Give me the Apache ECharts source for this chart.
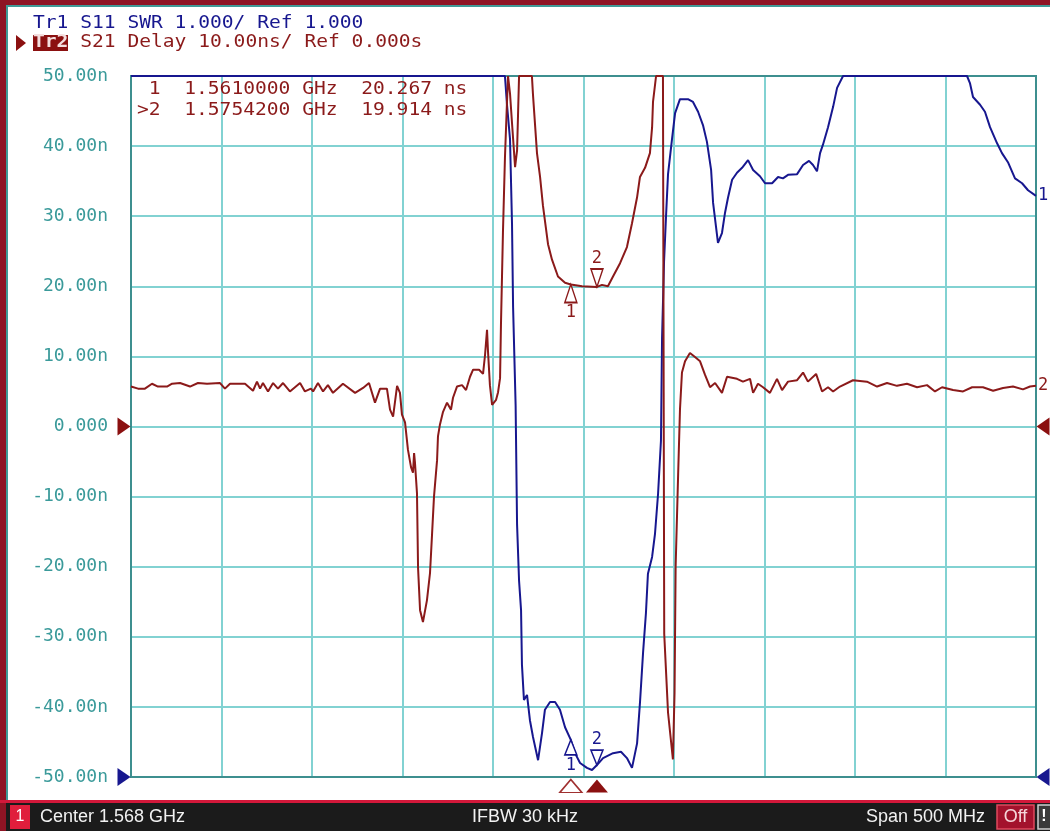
<!DOCTYPE html>
<html><head><meta charset="utf-8">
<script src="https://cdn.jsdelivr.net/npm/echarts@6/dist/echarts.min.js"></script>
<style>html,body{margin:0;padding:0;background:#fff;}#c{width:1050px;height:831px;}</style>
</head><body><div id="c"></div>
<script>
// ---- sweep ----
const CENTER_GHZ = 1.568;
const SPAN_MHZ = 500;
const START_MHZ = CENTER_GHZ * 1000 - SPAN_MHZ / 2; // 1318
const DIV_MHZ = 50;

// ---- Tr2: S21 group delay (ns) ----
const redFreqMHz = [1318.0,1321.9,1325.7,1329.6,1332.9,1337.9,1340.7,1345.1,1350.6,1355.0,1360.0,1367.2,1369.9,1372.7,1381.0,1385.4,1387.6,1389.3,1390.9,1393.7,1396.5,1399.2,1402.0,1405.8,1411.4,1414.1,1417.4,1418.6,1421.3,1424.1,1426.8,1429.6,1435.1,1441.8,1446.2,1449.5,1452.8,1455.6,1459.4,1461.1,1462.8,1465.0,1466.6,1467.7,1469.4,1471.0,1472.7,1473.8,1474.4,1474.9,1476.0,1476.6,1477.7,1479.3,1481.5,1483.2,1484.3,1485.4,1487.1,1487.6,1488.7,1490.4,1492.6,1494.8,1495.9,1498.1,1500.9,1503.1,1505.3,1507.0,1510.3,1512.5,1513.6,1514.7,1515.2,1516.3,1517.5,1519.7,1520.8,1521.9,1522.4,1523.5,1524.6,1525.7,1526.3,1527.4,1528.5,1530.2,1531.3,1531.8,1532.4,1539.5,1540.1,1542.3,1544.0,1545.6,1548.4,1550.6,1553.9,1557.8,1561.0,1567.2,1575.42,1578.2,1581.5,1584.3,1588.2,1592.0,1594.8,1597.6,1599.2,1602.0,1604.7,1605.9,1606.4,1608.1,1611.9,1612.6,1614.7,1617.4,1618.3,1618.9,1620.3,1621.3,1622.4,1624.1,1626.8,1629.6,1632.4,1635.1,1637.9,1640.7,1644.5,1647.3,1652.8,1656.1,1660.0,1661.7,1664.4,1667.2,1671.0,1674.9,1677.7,1681.0,1686.0,1689.3,1692.0,1696.5,1699.8,1703.1,1705.9,1709.7,1716.9,1724.6,1730.2,1735.7,1741.2,1746.7,1752.3,1757.8,1762.2,1766.1,1772.2,1777.7,1782.7,1788.7,1794.3,1799.8,1805.3,1810.8,1814.7,1818.0];
const redDelayNs = [5.7,5.4,5.4,6.1,5.7,5.7,6.1,6.2,5.7,6.2,6.1,6.2,5.4,6.1,6.1,5.1,6.4,5.4,6.2,5.0,6.2,5.4,6.2,5.0,6.2,5.0,5.4,5.0,6.2,5.0,5.9,4.8,6.1,4.8,5.5,6.2,3.4,5.4,5.4,2.4,1.4,5.8,4.8,1.7,0.6,-3.3,-5.8,-6.6,-3.8,-5.2,-9.5,-20.2,-26.2,-27.9,-24.8,-20.9,-15.5,-10.0,-4.8,-1.4,0.3,2.1,3.4,2.4,4.1,5.7,5.9,5.2,7.1,8.1,8.1,7.5,10.2,13.8,10.9,5.9,3.1,3.8,4.9,6.9,14.5,27.7,38.3,46.1,50,47.5,43.3,37.0,39.4,44.2,50,50,47.3,39.0,35.6,31.5,26.0,23.8,21.4,20.5,20.267,20.0,19.914,20.2,20.0,21.4,23.3,25.6,29.0,32.7,35.6,36.9,39.0,42.7,46.3,50,50,-29.6,-40.8,-47.5,-38.0,-20.0,-6.7,2.4,7.7,9.3,10.5,9.9,9.3,7.4,5.6,6.2,4.8,7.1,6.8,6.4,6.8,4.8,6.1,5.6,4.8,6.8,5.2,6.4,6.6,7.7,6.4,7.5,5.0,5.6,5.0,5.7,6.6,6.4,5.7,6.2,5.8,6.1,5.6,5.9,5.0,5.6,5.2,5.0,5.6,5.6,5.1,5.5,5.7,5.3,5.7,5.8];

// ---- Tr1: S11 SWR ----
const blueFreqMHz = [1318.0,1524.6,1525.7,1527.4,1528.5,1529.1,1530.5,1531.3,1532.4,1533.5,1534.0,1535.1,1536.8,1538.4,1540.1,1542.9,1545.1,1546.7,1549.5,1552.3,1555.0,1557.8,1561.0,1563.3,1566.1,1569.9,1572.7,1575.42,1578.8,1584.3,1588.7,1592.0,1594.8,1597.6,1599.2,1600.9,1602.5,1603.6,1605.9,1607.5,1609.2,1610.8,1611.4,1612.5,1613.6,1614.7,1616.9,1618.6,1621.3,1625.7,1628.5,1631.3,1634.0,1636.2,1638.5,1639.6,1641.2,1642.3,1644.5,1646.2,1647.8,1650.1,1652.8,1655.6,1658.9,1661.7,1665.5,1668.3,1672.2,1675.5,1678.2,1681.0,1686.0,1689.3,1692.6,1694.8,1697.0,1698.7,1700.3,1703.1,1705.9,1708.1,1711.4,1779.9,1781.5,1783.2,1787.1,1789.8,1792.6,1796.5,1799.2,1802.5,1806.4,1810.3,1813.6,1818.0];
const blueSwr = [11,11,10.6,10.1,8.9,7.7,6.3,4.6,3.8,3.38,2.6,2.1,2.17,1.81,1.57,1.24,1.63,1.96,2.07,2.07,1.96,1.71,1.53,1.34,1.2,1.13,1.1,1.17,1.27,1.34,1.36,1.27,1.13,1.48,2.06,2.77,3.34,3.9,4.14,4.47,5.04,5.8,7.26,8.35,9.0,9.6,10.1,10.47,10.67,10.67,10.63,10.49,10.3,10.06,9.66,9.19,8.85,8.62,8.76,9.05,9.26,9.52,9.62,9.69,9.8,9.66,9.57,9.47,9.47,9.56,9.54,9.59,9.6,9.73,9.79,9.73,9.64,9.9,10.02,10.27,10.56,10.83,11,11,10.9,10.7,10.59,10.49,10.27,10.04,9.9,9.77,9.54,9.47,9.37,9.29];

// ---- markers ----
const markerNames = ['1', '2'];
const markerFreqGHz = [1.5610000, 1.5754200];
const markerDelayNs = [20.267, 19.914];
const markerSwr = [1.53, 1.17];
const activeMarker = 1;

// ---- scales ----
const DELAY_MIN = -50, DELAY_MAX = 50, DELAY_DIV = 10;
const SWR_MIN = 1, SWR_MAX = 11, SWR_DIV = 1;

// ---- texts ----
const header1 = 'Tr1 S11 SWR 1.000/ Ref 1.000';
const header2tag = 'Tr2';
const header2 = ' S21 Delay 10.00ns/ Ref 0.000s';
const statusLeft = 'Center 1.568 GHz';
const statusMid = 'IFBW 30 kHz';
const statusRight = 'Span 500 MHz';

const BLUE = '#17178f';
const RED = '#8b1a1a';
const TEAL_TXT = '#3a9a9a';
const GRIDC = '#82d2d2';
const MONO = '"DejaVu Sans Mono", "Liberation Mono", monospace';
const MONO_PX = 17, MONO_SX = 1.153;
const G = {left: 131, top: 76, width: 905, height: 701};

const off = f => f - START_MHZ;
const redData = redFreqMHz.map((f, i) => [off(f), redDelayNs[i]]);
const blueData = blueFreqMHz.map((f, i) => [off(f), blueSwr[i]]);

function traceMarkers(vals, color, h) {
  return markerFreqGHz.map((fg, i) => {
    const up = i === 0;
    return {
      coord: [off(fg * 1000), vals[i]],
      symbol: 'triangle',
      symbolSize: [12, h],
      symbolRotate: up ? 0 : 180,
      symbolOffset: [0, up ? h / 2 : -h / 2],
      itemStyle: {color: '#fff', borderColor: color, borderWidth: 1.6},
      label: {show: true, formatter: markerNames[i], position: up ? 'bottom' : 'top', distance: 1,
        color: color, fontFamily: MONO, fontSize: 17}
    };
  });
}
function edgeArrows(val, color) {
  return [
    {coord: [0, val], symbol: 'triangle', symbolSize: [18, 13], symbolRotate: -90, symbolOffset: [-7, 0],
     itemStyle: {color: color}, label: {show: false}},
    {coord: [SPAN_MHZ, val], symbol: 'triangle', symbolSize: [18, 13], symbolRotate: 90, symbolOffset: [7, 0],
     itemStyle: {color: color}, label: {show: false}}
  ];
}
const stimMarkers = markerFreqGHz.map((fg, i) => ({
  coord: [off(fg * 1000), DELAY_MIN], symbol: 'triangle', symbolSize: [22, 13], symbolOffset: [0, 9],
  itemStyle: i === activeMarker ? {color: '#8b1010'} : {color: '#fff', borderColor: '#a03030', borderWidth: 1.5},
  label: {show: false}
}));

const fmtDelay = v => v === 0 ? '0.000' : v.toFixed(2) + 'n';
const readout = markerFreqGHz.map((fg, i) =>
  (i === activeMarker ? '>' : ' ') + markerNames[i] + '  ' + fg.toFixed(7) + ' GHz  ' + markerDelayNs[i].toFixed(3) + ' ns');

function monoText(x, y, text, fill, bold) {
  return {type: 'text', z: 10, x: x, y: y, scaleX: MONO_SX, scaleY: 1,
    style: {text: text, fill: fill, font: (bold ? 'bold ' : '') + MONO_PX + 'px ' + MONO, textVerticalAlign: 'middle'}};
}

const chart = echarts.init(document.getElementById('c'), null, {renderer: 'canvas'});
chart.setOption({
  animation: false,
  grid: {left: G.left, top: G.top, width: G.width, height: G.height, show: false},
  xAxis: {type: 'value', min: 0, max: SPAN_MHZ, interval: DIV_MHZ,
    axisLine: {show: false}, axisTick: {show: false}, axisLabel: {show: false},
    splitLine: {show: true, lineStyle: {color: GRIDC, width: 2}}},
  yAxis: [
    {type: 'value', min: DELAY_MIN, max: DELAY_MAX, interval: DELAY_DIV,
     axisLine: {show: false}, axisTick: {show: false},
     axisLabel: {color: TEAL_TXT, fontFamily: MONO, fontSize: 18, margin: 23, formatter: fmtDelay},
     splitLine: {show: true, lineStyle: {color: GRIDC, width: 2}}},
    {type: 'value', min: SWR_MIN, max: SWR_MAX, interval: SWR_DIV, show: false, position: 'right'}
  ],
  series: [
    {name: 'Tr1 S11 SWR', type: 'line', yAxisIndex: 1, data: blueData, showSymbol: false, clip: false, z: 3,
     lineStyle: {color: BLUE, width: 2}, itemStyle: {color: BLUE},
     endLabel: {show: true, formatter: '1', color: BLUE, fontFamily: MONO, fontSize: 17, distance: 2},
     markPoint: {silent: true, data: traceMarkers(markerSwr, BLUE, 15).concat(edgeArrows(SWR_MIN, BLUE))}},
    {name: 'Tr2 S21 Delay', type: 'line', yAxisIndex: 0, data: redData, showSymbol: false, clip: false, z: 4,
     lineStyle: {color: RED, width: 2}, itemStyle: {color: RED},
     endLabel: {show: true, formatter: '2', color: RED, fontFamily: MONO, fontSize: 17, distance: 2},
     markPoint: {silent: true, data: traceMarkers(markerDelayNs, RED, 18).concat(edgeArrows(0, '#8b1010')).concat(stimMarkers)}}
  ],
  graphic: [
    // frame
    {type: 'rect', z: -20, shape: {x: 0, y: 0, width: 1050, height: 831}, style: {fill: '#8e1424'}},
    {type: 'rect', z: -19, shape: {x: 6, y: 5, width: 1044, height: 795}, style: {fill: '#3f9a96'}},
    {type: 'rect', z: -18, shape: {x: 8, y: 7, width: 1042, height: 793}, style: {fill: '#ffffff'}},
    {type: 'rect', z: -17, shape: {x: 0, y: 800, width: 1050, height: 3}, style: {fill: '#d2183a'}},
    {type: 'rect', z: -17, shape: {x: 6, y: 803, width: 1044, height: 28}, style: {fill: '#1b1b1b'}},
    // plot border
    {type: 'rect', z: 1, shape: {x: G.left, y: G.top, width: G.width, height: G.height},
     style: {fill: null, stroke: '#3d8f8f', lineWidth: 2}},
    // header
    monoText(33, 24, header1, BLUE),
    {type: 'polygon', z: 10, shape: {points: [[16, 35], [26, 43], [16, 51]]}, style: {fill: '#8b1010'}},
    {type: 'rect', z: 10, shape: {x: 33, y: 35, width: 35, height: 16}, style: {fill: '#8b1010'}},
    Object.assign(monoText(33, 43, header2tag, '#f4dede', true), {z: 11}),
    monoText(68.4, 43, header2, RED),
    // marker readout
    monoText(137, 90, readout[0], RED),
    monoText(137, 111, readout[1], RED),
    // status bar
    {type: 'rect', z: 10, shape: {x: 10, y: 805, width: 20, height: 24}, style: {fill: '#e01e3c'}},
    {type: 'text', z: 11, x: 20, y: 817, style: {text: '1', fill: '#fff', font: '16px "Liberation Sans", sans-serif', textAlign: 'center', textVerticalAlign: 'middle'}},
    {type: 'text', z: 10, x: 40, y: 817, style: {text: statusLeft, fill: '#f2f2f2', font: '18px "Liberation Sans", sans-serif', textVerticalAlign: 'middle'}},
    {type: 'text', z: 10, x: 525, y: 817, style: {text: statusMid, fill: '#f2f2f2', font: '18px "Liberation Sans", sans-serif', textAlign: 'center', textVerticalAlign: 'middle'}},
    {type: 'text', z: 10, x: 985, y: 817, style: {text: statusRight, fill: '#f2f2f2', font: '18px "Liberation Sans", sans-serif', textAlign: 'right', textVerticalAlign: 'middle'}},
    {type: 'rect', z: 10, shape: {x: 997, y: 805, width: 37, height: 24}, style: {fill: '#a3122c', stroke: '#e04a5e', lineWidth: 1.5}},
    {type: 'text', z: 11, x: 1015.5, y: 817, style: {text: 'Off', fill: '#f6d6da', font: '18px "Liberation Sans", sans-serif', textAlign: 'center', textVerticalAlign: 'middle'}},
    {type: 'rect', z: 10, shape: {x: 1038, y: 805, width: 14, height: 24}, style: {fill: '#3a3a3a', stroke: '#cfcfcf', lineWidth: 1.5}},
    {type: 'text', z: 11, x: 1044, y: 817, style: {text: '!', fill: '#fff', font: 'bold 16px "Liberation Sans", sans-serif', textAlign: 'center', textVerticalAlign: 'middle'}}
  ]
});
</script></body></html>
